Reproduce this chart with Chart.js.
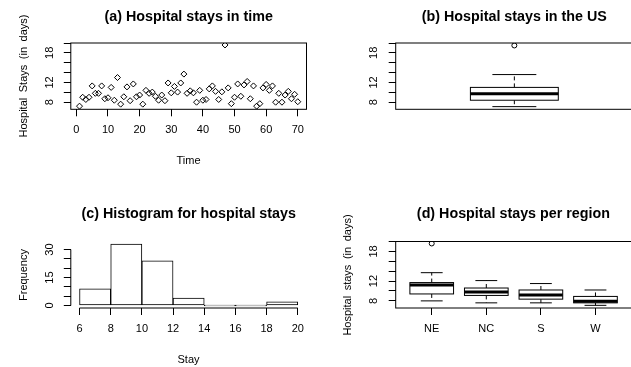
<!DOCTYPE html>
<html>
<head>
<meta charset="utf-8">
<script src="https://cdn.jsdelivr.net/npm/chart.js@4.4.1/dist/chart.umd.min.js"></script>
<style>
  html, body { margin: 0; padding: 0; background: #fff; }
  #page { width: 631px; height: 367px; overflow: hidden; position: relative;
          font-family: 'Liberation Sans', Arial, sans-serif; color: #000; }
  canvas { position: absolute; }
  .txt { position: absolute; white-space: nowrap; font-size: 11px; line-height: 1;
         transform: translate(-50%, -50%); }
  .main { font-weight: bold; font-size: 14.3px; }
  .rot { position: absolute; width: 200px; height: 12px; line-height: 12px; font-size: 11px;
         text-align: center; white-space: nowrap; margin: -6px 0 0 -100px;
         transform: rotate(-90deg); }
  .wide { word-spacing: 2.5px; }
</style>
</head>
<body>
<div id="page">
<canvas id="timeChart" width="315" height="183" style="left:0;top:0"></canvas>
<canvas id="usChart" width="320" height="183" style="left:315px;top:0"></canvas>
<canvas id="histChart" width="315" height="184" style="left:0;top:183px"></canvas>
<canvas id="regionChart" width="320" height="184" style="left:315px;top:183px"></canvas>

<div class="txt main" style="left:188.7px;top:15.7px">(a) Hospital stays in time</div>
<div class="txt main" style="left:514.3px;top:15.7px">(b) Hospital stays in the US</div>
<div class="txt main" style="left:188.7px;top:213.3px">(c) Histogram for hospital stays</div>
<div class="txt main" style="left:513.4px;top:213.3px">(d) Hospital stays per region</div>
<div class="txt" style="left:188.5px;top:160px">Time</div>
<div class="txt" style="left:188.5px;top:359px">Stay</div>
<div class="rot wide" style="left:23px;top:76px">Hospital Stays (in days)</div>
<div class="rot" style="left:23px;top:275px">Frequency</div>
<div class="rot wide" style="left:347px;top:275px">Hospital stays (in days)</div>
</div>

<script>
// ── Data ──────────────────────────────────────────────────────

const stays = [
  7.2, 9.0, 8.55, 9.0, 11.3, 9.8, 9.8, 11.3, 8.7, 8.9,
  11.0, 8.4, 13.0, 7.6, 9.1, 11.1, 8.3, 11.7, 9.1, 9.45,
  7.6, 10.4, 9.8, 10.05, 9.2, 8.4, 9.45, 8.3, 11.9, 9.9,
  11.2, 10.05, 11.9, 13.7, 9.8, 10.3, 9.9, 8.0, 10.4, 8.4,
  8.55, 10.7, 11.3, 10.2, 8.55, 10.1, 19.6, 10.9, 7.7, 9.0,
  11.7, 9.2, 11.5, 12.2, 8.7, 11.3, 7.2, 7.7, 10.9, 11.6,
  10.4, 11.3, 8.0, 9.8, 8.0, 9.45, 10.2, 8.7, 9.6, 8.1,
];

// US boxplot: min whisker, Q1, median, Q3, max whisker
const usBox = [7.1, 8.4, 9.7, 11.0, 13.6];
const usOutliers = [19.5];

const histBreaks = [6, 8, 10, 12, 14, 16, 18, 20];
const histCounts = [9, 33, 24, 4, 0, 0, 2];

const regions = ['NE', 'NC', 'S', 'W'];
const regionMin = [8.0, 7.6, 7.6, 7.1];
const regionQ1 = [9.4, 9.1, 8.35, 7.6];
const regionMedian = [11.2, 9.8, 9.2, 7.9];
const regionQ3 = [11.7, 10.6, 10.2, 8.9];
const regionMax = [13.7, 12.1, 11.5, 10.2];
const regionOutliers = [[19.6], [], [], []];

const stayTickLabels = [8, 12, 18];
const freqTickLabels = [0, 15, 30];

// ── Shared styling ────────────────────────────────────────────

const FONT = "'Liberation Sans', Arial, sans-serif";
const INK = '#000';
const tickFont = { family: FONT, size: 11 };

const fixWidth = w => scale => { scale.width = w; };
const fixHeight = h => scale => { scale.height = h; };

const tickGrid = { drawOnChartArea: false, tickLength: 7, color: INK, lineWidth: 1, offset: false };

// R-style rotated y tick labels (only some ticks get a label)
const rotatedYLabels = {
  id: 'rotatedYLabels',
  afterDraw(chart, args, opts) {
    if (!opts.values) return;
    const { ctx, chartArea } = chart;
    const y = chart.scales.y;
    ctx.save();
    ctx.fillStyle = INK;
    ctx.font = `${tickFont.size}px ${FONT}`;
    ctx.textAlign = 'center';
    ctx.textBaseline = 'middle';
    opts.values.forEach(v => {
      ctx.save();
      ctx.translate(chartArea.left - opts.offset, y.getPixelForValue(v));
      ctx.rotate(-Math.PI / 2);
      ctx.fillText(String(v), 0, 0);
      ctx.restore();
    });
    ctx.restore();
  }
};

// box around the plot region
const frame = {
  id: 'frame',
  afterDraw(chart, args, opts) {
    if (!opts.show) return;
    const { ctx, chartArea: a } = chart;
    ctx.save();
    ctx.strokeStyle = INK;
    ctx.lineWidth = 1;
    ctx.strokeRect(a.left, a.top, a.right - a.left, a.bottom - a.top);
    ctx.restore();
  }
};

// axis lines spanning only first..last tick (histogram)
const axisLines = {
  id: 'axisLines',
  afterDraw(chart, args, opts) {
    if (!opts.x) return;
    const { ctx, chartArea: a } = chart;
    const xs = chart.scales.x, ys = chart.scales.y;
    ctx.save();
    ctx.strokeStyle = INK;
    ctx.lineWidth = 1;
    ctx.beginPath();
    ctx.moveTo(xs.getPixelForValue(opts.x[0]), a.bottom);
    ctx.lineTo(xs.getPixelForValue(opts.x[1]), a.bottom);
    ctx.moveTo(a.left, ys.getPixelForValue(opts.y[0]));
    ctx.lineTo(a.left, ys.getPixelForValue(opts.y[1]));
    ctx.stroke();
    ctx.restore();
  }
};

// box, median, whiskers and staples drawn through the chart scales
const boxplots = {
  id: 'boxplots',
  beforeDatasetsDraw(chart, args, opts) {
    if (!opts.boxes) return;
    const { ctx } = chart;
    const xs = chart.scales.x, ys = chart.scales.y;
    ctx.save();
    ctx.strokeStyle = INK;
    opts.boxes.forEach(b => {
      const xc = xs.getPixelForValue(b.x);
      const half = Math.abs(xs.getPixelForValue(b.x + opts.halfWidth) - xc);
      const yMin = ys.getPixelForValue(b.min), yQ1 = ys.getPixelForValue(b.q1);
      const yMed = ys.getPixelForValue(b.median), yQ3 = ys.getPixelForValue(b.q3);
      const yMax = ys.getPixelForValue(b.max);
      // whiskers
      ctx.lineWidth = 1;
      ctx.setLineDash([4, 3]);
      ctx.beginPath();
      ctx.moveTo(xc, yQ3); ctx.lineTo(xc, yMax);
      ctx.moveTo(xc, yQ1); ctx.lineTo(xc, yMin);
      ctx.stroke();
      ctx.setLineDash([]);
      // staples
      ctx.beginPath();
      ctx.moveTo(xc - half / 2, yMax); ctx.lineTo(xc + half / 2, yMax);
      ctx.moveTo(xc - half / 2, yMin); ctx.lineTo(xc + half / 2, yMin);
      ctx.stroke();
      // box
      ctx.fillStyle = '#fff';
      ctx.fillRect(xc - half, yQ3, 2 * half, yQ1 - yQ3);
      ctx.strokeRect(xc - half, yQ3, 2 * half, yQ1 - yQ3);
      // median
      ctx.lineWidth = 3;
      ctx.beginPath();
      ctx.moveTo(xc - half, yMed); ctx.lineTo(xc + half, yMed);
      ctx.stroke();
    });
    ctx.restore();
  }
};

Chart.register(rotatedYLabels, frame, axisLines, boxplots);
Chart.defaults.font.family = FONT;
Chart.defaults.color = INK;
Chart.defaults.animation = false;
Chart.defaults.layout.autoPadding = false;

const noLegend = { legend: { display: false }, tooltip: { enabled: false } };

function stayAxis(width) {
  return {
    type: 'linear', min: 6.56, max: 20.0,
    afterFit: fixWidth(width),
    grid: tickGrid,
    border: { display: false },
    ticks: { stepSize: 2, includeBounds: false, autoSkip: false, callback: () => '' }
  };
}

// ── (a) Hospital stays in time ────────────────────────────────

new Chart(document.getElementById('timeChart'), {
  type: 'scatter',
  data: {
    datasets: [{
      data: stays.map((v, i) => ({ x: i + 1, y: v })),
      pointStyle: 'rectRot',
      pointRadius: 3,
      borderColor: INK,
      backgroundColor: 'rgba(0,0,0,0)',
      borderWidth: 1,
    }]
  },
  options: {
    responsive: false,
    layout: { autoPadding: false, padding: { top: 43, right: 8.5, left: 0, bottom: 0 } },
    plugins: { ...noLegend, frame: { show: true }, rotatedYLabels: { values: stayTickLabels, offset: 21 } },
    scales: {
      x: {
        type: 'linear', min: -1.76, max: 72.76,
        afterFit: fixHeight(73.7),
        grid: tickGrid,
        border: { display: false },
        ticks: { stepSize: 10, includeBounds: false, autoSkip: false, maxRotation: 0, padding: 7, font: tickFont }
      },
      y: stayAxis(70.8)
    }
  }
});

// ── (b) Hospital stays in the US ──────────────────────────────

new Chart(document.getElementById('usChart'), {
  type: 'scatter',
  data: {
    datasets: [{
      data: usOutliers.map(v => ({ x: 1, y: v })),
      pointStyle: 'circle',
      pointRadius: 2.5,
      borderColor: INK,
      backgroundColor: 'rgba(0,0,0,0)',
      borderWidth: 1,
    }]
  },
  options: {
    responsive: false,
    layout: { autoPadding: false, padding: { top: 43, right: 2, left: 0, bottom: 73.7 } },
    plugins: {
      ...noLegend,
      frame: { show: true },
      rotatedYLabels: { values: stayTickLabels, offset: 21.5 },
      boxplots: {
        halfWidth: 0.2,
        boxes: [{ x: 1, min: usBox[0], q1: usBox[1], median: usBox[2], q3: usBox[3], max: usBox[4] }]
      }
    },
    scales: {
      x: { type: 'linear', min: 0.46, max: 1.54, display: false },
      y: stayAxis(80.7)
    }
  }
});

// ── (c) Histogram for hospital stays ──────────────────────────

new Chart(document.getElementById('histChart'), {
  type: 'bar',
  data: {
    datasets: [{
      data: histCounts.map((c, i) => ({ x: (histBreaks[i] + histBreaks[i + 1]) / 2, y: c })),
      backgroundColor: '#fff',
      borderColor: INK,
      borderWidth: 1,
      borderSkipped: false,
      minBarLength: 1,
      barPercentage: 1,
      categoryPercentage: 1,
    }]
  },
  options: {
    responsive: false,
    layout: { autoPadding: false, padding: { top: 58.5, right: 8.5, left: 0, bottom: 0 } },
    plugins: {
      ...noLegend,
      axisLines: { x: [histBreaks[0], histBreaks[histBreaks.length - 1]], y: [freqTickLabels[0], freqTickLabels[2]] },
      rotatedYLabels: { values: freqTickLabels, offset: 21 }
    },
    scales: {
      x: {
        type: 'linear', min: 5.44, max: 20.56, offset: false,
        afterFit: fixHeight(59),
        grid: tickGrid,
        border: { display: false },
        ticks: { stepSize: 2, includeBounds: false, autoSkip: false, maxRotation: 0, padding: 7, font: tickFont }
      },
      y: {
        type: 'linear', min: -1.32, max: 34.32,
        afterFit: fixWidth(70.8),
        grid: tickGrid,
        border: { display: false },
        ticks: { stepSize: 5, includeBounds: false, autoSkip: false, callback: () => '' }
      }
    }
  }
});

// ── (d) Hospital stays per region ─────────────────────────────

new Chart(document.getElementById('regionChart'), {
  type: 'scatter',
  data: {
    datasets: [{
      data: regionOutliers.flatMap((list, i) => list.map(v => ({ x: i + 1, y: v }))),
      pointStyle: 'circle',
      pointRadius: 2.5,
      borderColor: INK,
      backgroundColor: 'rgba(0,0,0,0)',
      borderWidth: 1,
    }]
  },
  options: {
    responsive: false,
    layout: { autoPadding: false, padding: { top: 58.5, right: 3.5, left: 0, bottom: 0 } },
    plugins: {
      ...noLegend,
      frame: { show: true },
      rotatedYLabels: { values: stayTickLabels, offset: 21.5 },
      boxplots: {
        halfWidth: 0.4,
        boxes: regions.map((r, i) => ({
          x: i + 1, min: regionMin[i], q1: regionQ1[i], median: regionMedian[i], q3: regionQ3[i], max: regionMax[i]
        }))
      }
    },
    scales: {
      x: {
        type: 'linear', min: 0.34, max: 4.66,
        afterFit: fixHeight(59),
        grid: tickGrid,
        border: { display: false },
        ticks: {
          stepSize: 1, includeBounds: false, autoSkip: false, maxRotation: 0, padding: 7, font: tickFont,
          callback: v => regions[v - 1]
        }
      },
      y: stayAxis(80.7)
    }
  }
});
</script>
</body>
</html>
